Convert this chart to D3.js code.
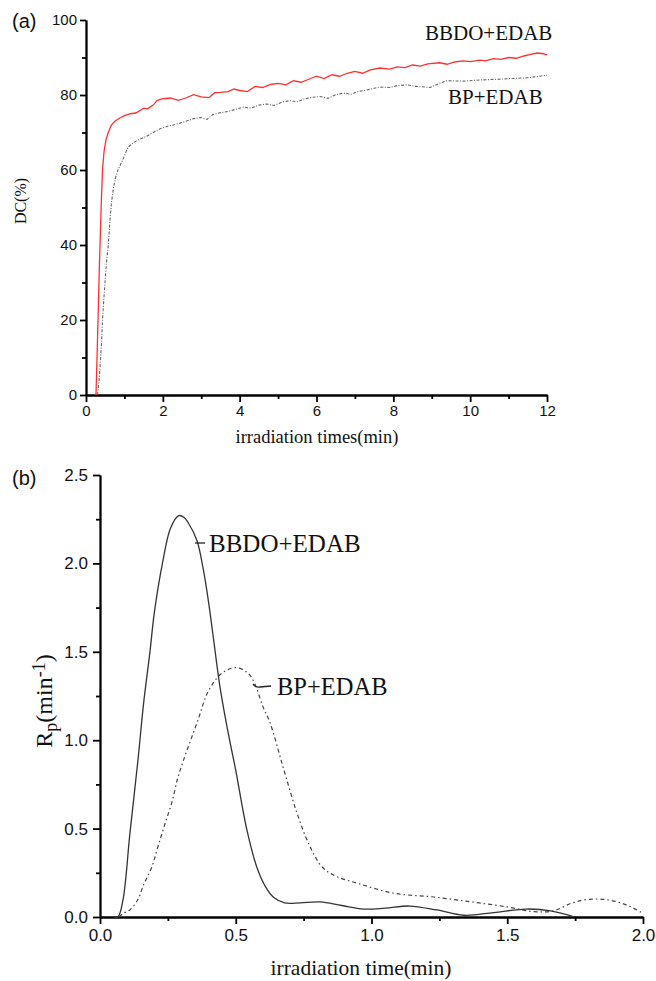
<!DOCTYPE html>
<html>
<head>
<meta charset="utf-8">
<script src="https://cdn.jsdelivr.net/npm/d3@7"></script>
<style>
  body { margin: 0; background: #fff; }
  svg { display: block; }
  .axis path, .axis line { stroke: #000; stroke-width: 1.8; }
  .axis text { font-family: "Liberation Sans", Arial, sans-serif; fill: #111; }
  .serif { font-family: "Liberation Serif", "Times New Roman", serif; fill: #111; }
</style>
</head>
<body>
<svg id="fig"></svg>
<script>
// ---- panel (a): degree of conversion vs time ----
const bbdoT = [0.26,0.3,0.35,0.4,0.43,0.47,0.52,0.58,0.66,0.75,0.9,1.0,1.15,1.3,1.5,1.6,1.75,1.85,2.0,2.2,2.4,2.6,2.8,3.0,3.2,3.35,3.5,3.7,3.85,4.0,4.2,4.4,4.6,4.8,5.0,5.2,5.4,5.6,5.8,6.0,6.2,6.4,6.6,6.8,7.0,7.2,7.4,7.65,7.9,8.1,8.3,8.5,8.7,8.9,9.2,9.4,9.6,9.8,10.0,10.26,10.4,10.6,10.8,11.0,11.2,11.4,11.6,11.75,11.9,12.0];
const bbdoDC = [0,15,35,52,60,65,68,70,72,73,74,74.5,75,75.2,76.5,76.3,77.3,78.5,79,79.2,78.6,79.2,80.1,79.5,79.3,80.6,80.7,80.9,81.6,81.2,80.9,82.3,82.0,82.8,83.1,82.7,83.8,83.4,84.2,85.0,84.4,85.4,85.0,85.8,86.3,85.8,86.7,87.2,86.9,87.5,87.3,88.0,87.7,88.3,88.6,88.2,88.8,89.1,88.9,89.3,89.1,89.7,89.5,90.0,89.8,90.4,90.9,91.2,91.0,90.7];

const bpT = [0.3,0.35,0.4,0.43,0.48,0.53,0.58,0.62,0.66,0.71,0.77,0.83,0.97,1.09,1.2,1.35,1.58,1.75,1.93,2.1,2.27,2.45,2.6,2.8,2.97,3.15,3.3,3.5,3.7,3.9,4.1,4.3,4.5,4.7,4.9,5.1,5.3,5.5,5.7,5.9,6.1,6.3,6.5,6.7,6.9,7.1,7.3,7.5,7.65,7.9,8.1,8.35,8.6,8.96,9.2,9.4,9.8,10.26,10.7,11.1,11.5,11.8,12.0];
const bpDC = [0,5,13,20,28,35,40,46,51,55,58,60,63,66,67,68,69,70,71,71.6,72,72.5,73,73.7,74,73.5,74.8,75.3,75.6,76.2,76.8,76.5,77.3,77.6,77.2,78.1,78.5,78.2,79,79.4,79.6,79.1,80.1,80.5,80.2,81.0,81.3,81.8,82.1,82.0,82.5,82.7,82.3,82.0,83.1,83.8,83.7,84.0,84.2,84.4,84.6,85.0,85.3];

const aXTicks = [0,2,4,6,8,10,12];
const aYTicks = [0,20,40,60,80,100];

// ---- panel (b): polymerization rate vs time ----
const bbdoRt = [0.05,0.066,0.085,0.11,0.14,0.16,0.184,0.2,0.23,0.26,0.29,0.31,0.325,0.357,0.38,0.40,0.42,0.44,0.46,0.48,0.5,0.54,0.578,0.61,0.64,0.68,0.737,0.81,0.89,0.97,1.05,1.14,1.24,1.34,1.45,1.57,1.66,1.75];
const bbdoRp = [0,0,0.1,0.47,0.89,1.2,1.5,1.72,2.0,2.2,2.27,2.26,2.23,2.13,1.97,1.78,1.55,1.32,1.14,0.98,0.83,0.5,0.28,0.17,0.11,0.08,0.08,0.085,0.065,0.045,0.05,0.062,0.04,0.01,0.025,0.045,0.035,0];

const bpRt = [0.07,0.085,0.11,0.14,0.16,0.19,0.214,0.24,0.265,0.287,0.306,0.36,0.40,0.45,0.5,0.545,0.57,0.6,0.626,0.674,0.725,0.773,0.82,0.87,0.95,1.08,1.23,1.37,1.5,1.6,1.67,1.74,1.8,1.87,1.94,2.0];
const bpRp = [0,0.02,0.04,0.1,0.18,0.28,0.40,0.53,0.65,0.79,0.88,1.11,1.28,1.38,1.41,1.38,1.32,1.19,1.10,0.85,0.59,0.40,0.28,0.23,0.19,0.135,0.113,0.085,0.057,0.03,0.035,0.08,0.1,0.097,0.068,0.02];

const bXTicks = [0,0.5,1.0,1.5,2.0];
const bYTicks = [0,0.5,1.0,1.5,2.0,2.5];

const W = 656, H = 981;
const svg = d3.select('#fig').attr('width', W).attr('height', H);

function zip(xs, ys) { return xs.map((x, i) => [x, ys[i]]); }

// ============ panel (a) ============
const a = { left: 86, right: 547, top: 20, bottom: 395 };
const ax = d3.scaleLinear().domain([0, 12]).range([a.left, a.right]);
const ay = d3.scaleLinear().domain([0, 100]).range([a.bottom, a.top]);

// minor ticks first
svg.append('g').attr('class', 'axis')
  .attr('transform', `translate(0,${a.bottom})`)
  .call(d3.axisBottom(ax).tickValues(d3.range(1, 12, 2)).tickSize(4).tickFormat('').tickSizeOuter(0));
svg.append('g').attr('class', 'axis')
  .attr('transform', `translate(${a.left},0)`)
  .call(d3.axisLeft(ay).tickValues(d3.range(10, 100, 20)).tickSize(4).tickFormat('').tickSizeOuter(0));

const axB = svg.append('g').attr('class', 'axis')
  .attr('transform', `translate(0,${a.bottom})`)
  .call(d3.axisBottom(ax).tickValues(aXTicks).tickSize(7).tickSizeOuter(0).tickPadding(3));
axB.selectAll('text').style('font-size', '15px');
const ayL = svg.append('g').attr('class', 'axis')
  .attr('transform', `translate(${a.left},0)`)
  .call(d3.axisLeft(ay).tickValues(aYTicks).tickSize(6).tickSizeOuter(0).tickPadding(3));
ayL.selectAll('text').style('font-size', '15px');

const lineA = d3.line().x(d => ax(d[0])).y(d => ay(d[1])).curve(d3.curveLinear);

svg.append('path')
  .datum(zip(bpT, bpDC))
  .attr('d', lineA)
  .attr('fill', 'none')
  .attr('stroke', '#666')
  .attr('stroke-width', 1.1)
  .attr('stroke-dasharray', '3,1.5,1,1.5');

svg.append('path')
  .datum(zip(bbdoT, bbdoDC))
  .attr('d', lineA)
  .attr('fill', 'none')
  .attr('stroke', '#ff3030')
  .attr('stroke-width', 1.3);

svg.append('text').attr('x', 12).attr('y', 28)
  .style('font-family', '"Liberation Sans", Arial, sans-serif').style('font-size', '20px').attr('fill', '#111')
  .text('(a)');

svg.append('text').attr('class', 'serif')
  .attr('transform', `translate(26,201) rotate(-90)`)
  .attr('text-anchor', 'middle').style('font-size', '16px')
  .text('DC(%)');

svg.append('text').attr('class', 'serif')
  .attr('x', 317).attr('y', 443)
  .attr('text-anchor', 'middle').style('font-size', '18.5px')
  .text('irradiation times(min)');

svg.append('text').attr('class', 'serif')
  .attr('x', 425).attr('y', 40).style('font-size', '21px')
  .text('BBDO+EDAB');
svg.append('text').attr('class', 'serif')
  .attr('x', 448).attr('y', 104).style('font-size', '21px')
  .text('BP+EDAB');

// ============ panel (b) ============
const b = { left: 100, right: 643, top: 475, bottom: 917 };
const bx = d3.scaleLinear().domain([0, 2]).range([b.left, b.right]);
const by = d3.scaleLinear().domain([0, 2.5]).range([b.bottom, b.top]);

svg.append('g').attr('class', 'axis')
  .attr('transform', `translate(0,${b.bottom})`)
  .call(d3.axisBottom(bx).tickValues([0.25, 0.75, 1.25, 1.75]).tickSize(4).tickFormat('').tickSizeOuter(0));
svg.append('g').attr('class', 'axis')
  .attr('transform', `translate(${b.left},0)`)
  .call(d3.axisLeft(by).tickValues([0.25, 0.75, 1.25, 1.75, 2.25]).tickSize(4).tickFormat('').tickSizeOuter(0));

const bxB = svg.append('g').attr('class', 'axis')
  .attr('transform', `translate(0,${b.bottom})`)
  .call(d3.axisBottom(bx).tickValues(bXTicks).tickSize(7).tickSizeOuter(0).tickPadding(5).tickFormat(d3.format('.1f')));
bxB.selectAll('text').style('font-size', '17px');
const byL = svg.append('g').attr('class', 'axis')
  .attr('transform', `translate(${b.left},0)`)
  .call(d3.axisLeft(by).tickValues(bYTicks).tickSize(7).tickSizeOuter(0).tickPadding(5).tickFormat(d3.format('.1f')));
byL.selectAll('text').style('font-size', '17px');

const lineB = d3.line().x(d => bx(d[0])).y(d => by(d[1])).curve(d3.curveCatmullRom.alpha(0.5));

svg.append('path')
  .datum(zip(bpRt, bpRp))
  .attr('d', lineB)
  .attr('fill', 'none')
  .attr('stroke', '#444')
  .attr('stroke-width', 1.2)
  .attr('stroke-dasharray', '4,3,1.5,3');

svg.append('path')
  .datum(zip(bbdoRt, bbdoRp))
  .attr('d', lineB)
  .attr('fill', 'none')
  .attr('stroke', '#333')
  .attr('stroke-width', 1.3);

svg.append('text').attr('x', 12).attr('y', 485)
  .style('font-family', '"Liberation Sans", Arial, sans-serif').style('font-size', '20px').attr('fill', '#111')
  .text('(b)');

const rp = svg.append('text').attr('class', 'serif')
  .attr('transform', `translate(52,701) rotate(-90)`)
  .attr('text-anchor', 'middle').style('font-size', '24px');
rp.append('tspan').text('R');
rp.append('tspan').attr('baseline-shift', '-25%').style('font-size', '18px').text('p');
rp.append('tspan').text('(min');
rp.append('tspan').attr('baseline-shift', '40%').style('font-size', '18px').text('-1');
rp.append('tspan').text(')');

svg.append('text').attr('class', 'serif')
  .attr('x', 361).attr('y', 975)
  .attr('text-anchor', 'middle').style('font-size', '21.5px')
  .text('irradiation time(min)');

// annotations with short leader lines
svg.append('line').attr('x1', 195).attr('y1', 543).attr('x2', 205).attr('y2', 543)
  .attr('stroke', '#222').attr('stroke-width', 1.3);
svg.append('text').attr('class', 'serif')
  .attr('x', 209).attr('y', 552).style('font-size', '25px')
  .text('BBDO+EDAB');

svg.append('path').attr('d', 'M253,684 Q256,688 260,687 L271,686')
  .attr('fill', 'none').attr('stroke', '#222').attr('stroke-width', 1.3);
svg.append('text').attr('class', 'serif')
  .attr('x', 277).attr('y', 695).style('font-size', '24.5px')
  .text('BP+EDAB');
</script>
</body>
</html>
